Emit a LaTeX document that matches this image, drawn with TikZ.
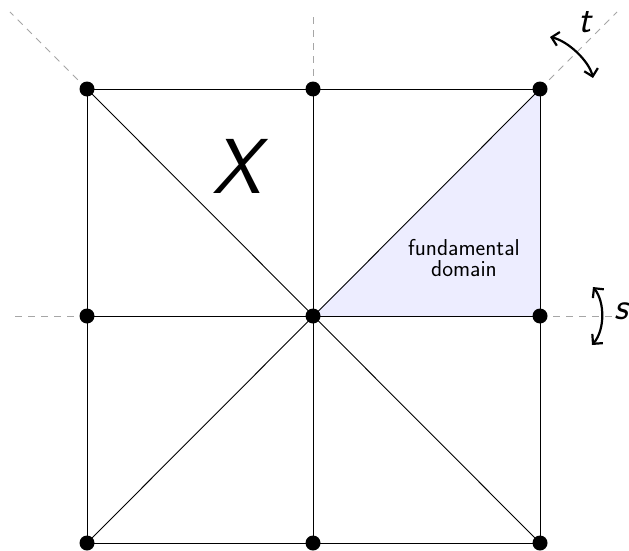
\documentclass[tikz,border=0pt]{standalone}
\usetikzlibrary{arrows.meta}
\begin{document}
\begin{tikzpicture}[x=1pt,y=-1pt,
  edge/.style={black,line width=0.9pt},
  axis/.style={gray!70,line width=0.9pt,dash pattern=on 7pt off 6pt},
  vert/.style={circle,fill=black,inner sep=0pt,minimum size=15pt},
  sym/.style={line width=2.2pt,{Straight Barb[length=7pt,width=14pt]}-{Straight Barb[length=7pt,width=14pt]}},
  lbl/.style={font=\fontsize{38}{40}\selectfont\sffamily\slshape,inner sep=0pt}]
\useasboundingbox (0,0) rectangle (629,551);
\coordinate (tl) at (87,89);
\coordinate (tm) at (313,89);
\coordinate (tr) at (540,89);
\coordinate (ml) at (87,316);
\coordinate (c) at (313,316);
\coordinate (mr) at (540,316);
\coordinate (bl) at (87,543);
\coordinate (bm) at (313,543);
\coordinate (br) at (540,543);
\coordinate (etl) at (10,12);
\coordinate (etm) at (313,12);
\coordinate (etr) at (617,12);
\coordinate (eml) at (9,316);
\coordinate (emr) at (612,316);
% fundamental domain
\fill[blue!7] (c) -- (tr) -- (mr) -- cycle;
% dashed axes
\draw[axis] (tl) -- (etl);
\draw[axis] (tm) -- (etm);
\draw[axis] (tr) -- (etr);
\draw[axis] (ml) -- (eml);
\draw[axis] (mr) -- (emr);
% edges
\draw[edge] (tl) -- (tr) -- (br) -- (bl) -- cycle;
\draw[edge] (tm) -- (bm);
\draw[edge] (ml) -- (mr);
\draw[edge] (tl) -- (br);
\draw[edge] (tr) -- (bl);
% vertices
\foreach \p in {tl,tm,tr,ml,c,mr,bl,bm,br}
  \node[vert] (v\p) at (\p) {};
% labels
\node[font=\fontsize{78}{80}\selectfont\sffamily\slshape,inner sep=0pt] (X) at (237,166) {X};
\node[font=\fontsize{23}{21}\selectfont\sffamily,align=center,inner sep=0pt] (fd) at (464,258) {fundamental\\domain};
% symmetry arrows
\coordinate (ta) at (550,37);
\coordinate (tb) at (593,78);
\draw[sym] (ta) .. controls (568,41) and (589,61) .. (tb);
\node[lbl] (t) at (585,22) {t};
\coordinate (sa) at (593,287);
\coordinate (sb) at (592,345);
\draw[sym] (sa) .. controls (605,302) and (605,330) .. (sb);
\node[lbl] (s) at (621,311) {s};
\end{tikzpicture}
\end{document}
